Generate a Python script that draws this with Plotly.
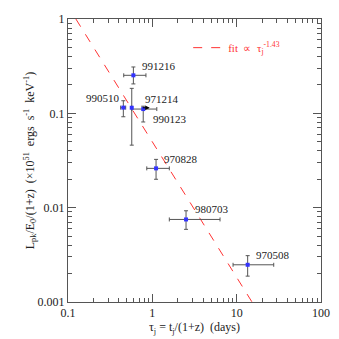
import math
import plotly.graph_objects as go

# GRB afterglows: jet break time vs peak luminosity
names = ["991216", "990510", "971214", "990123", "970828", "980703", "970508"]
tau = [0.596, 0.453, 0.570, 0.780, 1.107, 2.51, 13.5]
tau_lo = [0.458, 0.421, 0.570, 0.570, 0.859, 1.59, 9.06]
tau_hi = [0.840, 0.483, 0.570, 1.130, 1.590, 6.35, 27.5]
lum = [0.253, 0.115, 0.1146, 0.111, 0.0261, 0.0075, 0.00248]
lum_lo = [0.205, 0.092, 0.046, 0.081, 0.020, 0.00589, 0.00188]
lum_hi = [0.310, 0.136, 0.184, 0.119, 0.0325, 0.00927, 0.0031]

# label positions (data coords, left edge / vertical centre)
lab_x = [0.714, 0.155, 0.769, 0.957, 1.29, 3.06, 16.2]
lab_y = [0.315, 0.144, 0.142, 0.0877, 0.0325, 0.0096, 0.00314]

# fit endpoints
fit_x = [0.124, 15.2]
fit_y = [1.0, 0.001]

font = "Liberation Serif, Times New Roman, serif"
grey = "#555555"

fig = go.Figure()

fig.add_trace(go.Scatter(
    x=fit_x, y=fit_y, mode="lines",
    line=dict(color="#ff3333", width=1, dash="dash"),
    name="fit  ∝  τ<sub>j</sub><sup>-1.43</sup>"))

fig.add_trace(go.Scatter(
    x=tau, y=lum, mode="markers",
    marker=dict(symbol="square", size=4, color="#3333ff"),
    error_x=dict(type="data", symmetric=False,
                 array=[h - v for h, v in zip(tau_hi, tau)],
                 arrayminus=[v - l for v, l in zip(tau, tau_lo)],
                 color=grey, thickness=1, width=2),
    error_y=dict(type="data", symmetric=False,
                 array=[h - v for h, v in zip(lum_hi, lum)],
                 arrayminus=[v - l for v, l in zip(lum, lum_lo)],
                 color=grey, thickness=1, width=2),
    showlegend=False))

for n, x, y in zip(names, lab_x, lab_y):
    fig.add_annotation(x=math.log10(x), y=math.log10(y), xref="x", yref="y",
                       text=n, showarrow=False, xanchor="left",
                       font=dict(family=font, size=11, color="#222222"))

# arrow on 990123
fig.add_annotation(x=math.log10(0.93), y=math.log10(0.1145),
                   ax=math.log10(0.74), ay=math.log10(0.1145),
                   xref="x", yref="y", axref="x", ayref="y", text="",
                   showarrow=True, arrowhead=2, arrowsize=0.9, arrowwidth=1,
                   arrowcolor="black")

common = dict(type="log", showgrid=False, zeroline=False, automargin=False,
              showline=True, linecolor=grey, linewidth=1, mirror="allticks",
              ticks="inside", tickcolor=grey, tickwidth=1, ticklen=8,
              layer="above traces",
              tickmode="linear", tick0=0, dtick=1, exponentformat="none",
              minor=dict(dtick="D1", ticks="inside", ticklen=4,
                         tickcolor=grey, tickwidth=1, showgrid=False),
              tickfont=dict(family=font, size=12, color="#222222"))
titlefont = dict(family=font, size=12, color="#222222")

fig.update_xaxes(range=[-1, 2],
                 title=dict(text="τ<sub>j</sub> = t<sub>j</sub>/(1+z)  (days)",
                            font=titlefont, standoff=0),
                 **common)
fig.update_yaxes(range=[-3, 0],
                 title=dict(text="L<sub>pk</sub>/E<sub>0</sub>/(1+z)  (×10<sup>51</sup>  ergs  s<sup>-1</sup>  keV<sup>-1</sup>)",
                            font=titlefont, standoff=0),
                 **common)

fig.update_layout(
    width=339, height=339,
    margin=dict(l=68, r=18, t=19, b=37),
    paper_bgcolor="white", plot_bgcolor="white",
    showlegend=True,
    legend=dict(x=0.475, y=0.95, xanchor="left", yanchor="top",
                bgcolor="rgba(0,0,0,0)",
                font=dict(family=font, size=11, color="#ff3333")),
)

fig.write_html("out.html", config={"displayModeBar": False},
               post_script="document.body.style.margin='0';")
